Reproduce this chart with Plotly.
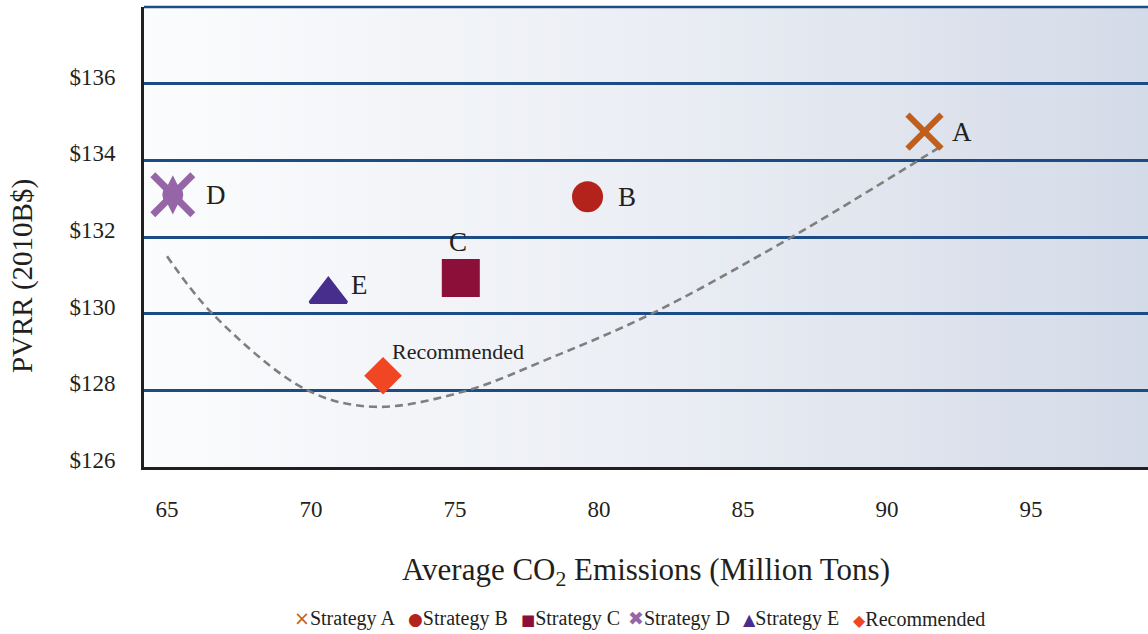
import base64
import plotly.graph_objects as go

# Portfolio strategies: average CO2 emissions vs. present value of revenue requirement
strategies = ["Strategy A", "Strategy B", "Strategy C", "Strategy D", "Strategy E", "Recommended"]
point_labels = ["A", "B", "C", "D", "E", "Recommended"]
emissions = [91.3, 79.6, 75.2, 65.2, 70.6, 72.5]
pvrr = [134.75, 133.05, 130.93, 133.1, 130.5, 128.38]

# Trade-off curve through the portfolios
trend_x = [65.0, 66.6, 69.85, 72.2, 75.3, 78.3, 81.8, 86.6, 91.8]
trend_y = [131.5, 129.98, 128.01, 127.57, 127.97, 128.84, 129.99, 131.96, 134.33]

x_tick_vals = [65, 70, 75, 80, 85, 90, 95]
y_tick_vals = [126, 128, 130, 132, 134, 136]
y_tick_text = ["$126", "$128", "$130", "$132", "$134", "$136"]

X_RANGE = [64.2, 99.06]
Y_RANGE = [126, 138]

W, H = 1148, 634
M_L, M_R, M_T, M_B = 144, 0, 7, 167
PLOT_W = W - M_L - M_R
PLOT_H = H - M_T - M_B

SERIF = "Liberation Serif, Times New Roman, serif"
INK = "#231F20"
GRID = "#1B4C86"

colors = ["#C25E1B", "#B3231B", "#8C0F3A", "#9565A8", "#472D8C", "#F04624"]

marker_styles = [
    dict(symbol="x-thin-open", size=34, color=colors[0], line=dict(width=6, color=colors[0])),
    dict(symbol="circle", size=31, color=colors[1], line=dict(width=0)),
    dict(symbol="square", size=38, color=colors[2], line=dict(width=0)),
    dict(symbol="x-thin-open", size=40, color=colors[3], line=dict(width=7, color=colors[3])),
    dict(symbol="triangle-up", size=32, color=colors[4], line=dict(width=3, color=colors[4])),
    dict(symbol="diamond", size=29, color=colors[5], line=dict(width=0)),
]

# label placement relative to each marker (pixels)
label_offsets = [
    (37, 0, "center"),
    (39, 0, "center"),
    (-3, 36, "center"),
    (43, 0, "center"),
    (31, 10, "center"),
    (7, 24, "left"),
]

# key entries below the chart: glyph, glyph size, left edge (px), row centre (px)
key_glyphs = [("×", 19), ("●", 17), ("■", 15), ("✖", 19), ("▲", 16), ("◆", 16)]
key_left_px = [292, 406, 519, 626, 741, 851]
KEY_ROW_PX = 619

fig = go.Figure()

fig.add_trace(go.Scatter(
    x=trend_x, y=trend_y, mode="lines", line_shape="spline",
    line=dict(color="#7F7F7F", width=2.6, dash="8px,5px"),
    showlegend=False, hoverinfo="skip",
))

for i, name in enumerate(strategies):
    fig.add_trace(go.Scatter(
        x=[emissions[i]], y=[pvrr[i]], mode="markers", name=name,
        marker=marker_styles[i], showlegend=False,
    ))
    if name == "Strategy D":
        # body of the D glyph
        for sym, sz in (("diamond-tall", 28), ("circle", 21)):
            fig.add_trace(go.Scatter(
                x=[emissions[i]], y=[pvrr[i]], mode="markers",
                marker=dict(symbol=sym, size=sz, color=colors[3], line=dict(width=0)),
                showlegend=False, hoverinfo="skip",
            ))

for i, lab in enumerate(point_labels):
    dx, dy, anchor = label_offsets[i]
    small = lab == "Recommended"
    fig.add_annotation(
        x=emissions[i], y=pvrr[i], text=lab, showarrow=False,
        xshift=dx, yshift=dy, xanchor=anchor, yanchor="middle",
        font=dict(family=SERIF, size=22 if small else 27, color=INK),
    )

# key row
for i, name in enumerate(strategies):
    glyph, gsize = key_glyphs[i]
    fig.add_annotation(
        xref="paper", yref="paper",
        x=(key_left_px[i] - M_L) / PLOT_W, y=(H - M_B - KEY_ROW_PX) / PLOT_H,
        xanchor="left", yanchor="middle", showarrow=False,
        text=f'<span style="color:{colors[i]};font-size:{gsize}px;font-family:DejaVu Sans">{glyph}</span>{name}',
        font=dict(family=SERIF, size=20, color=INK),
    )

# y-axis title
fig.add_annotation(
    xref="paper", yref="paper", x=-0.1215, y=0.415, text="PVRR (2010B$)",
    textangle=-90, showarrow=False, xanchor="center", yanchor="middle",
    font=dict(family=SERIF, size=29, color=INK),
)

# horizontal background gradient of the plotting area
svg = (
    '<svg xmlns="http://www.w3.org/2000/svg" width="200" height="20" viewBox="0 0 200 20" '
    'preserveAspectRatio="none"><defs><linearGradient id="g" x1="0" x2="1" y1="0" y2="0">'
    '<stop offset="0" stop-color="#FBFCFD"/><stop offset="0.5" stop-color="#EBEEF4"/>'
    '<stop offset="1" stop-color="#D4DBE8"/></linearGradient></defs>'
    '<rect width="200" height="20" fill="url(#g)"/></svg>'
)
fig.add_layout_image(
    source="data:image/svg+xml;base64," + base64.b64encode(svg.encode()).decode(),
    xref="x domain", yref="y domain", x=0, y=1, sizex=1, sizey=1,
    xanchor="left", yanchor="top", sizing="stretch", layer="below",
)

# top border of the plotting area
fig.add_shape(
    type="line", xref="x domain", yref="y domain", x0=0, x1=1, y0=1, y1=1,
    line=dict(color=GRID, width=2.5), layer="above",
)

fig.update_xaxes(
    range=X_RANGE, tickvals=x_tick_vals, showgrid=False, zeroline=False,
    showline=True, linecolor=INK, linewidth=3, ticks="", ticklabelstandoff=19,
    tickfont=dict(family=SERIF, size=23, color=INK),
    title=dict(text="Average CO<sub>2</sub> Emissions (Million Tons)", standoff=38,
               font=dict(family=SERIF, size=31, color=INK)),
)
fig.update_yaxes(
    range=Y_RANGE, tickvals=y_tick_vals, ticktext=y_tick_text,
    showgrid=True, gridcolor=GRID, gridwidth=2.5, zeroline=False,
    showline=True, linecolor=INK, linewidth=3, ticks="", ticklabelstandoff=21,
    ticklabelshift=-7,
    tickfont=dict(family=SERIF, size=23, color=INK),
)

fig.update_layout(
    width=W, height=H,
    margin=dict(l=M_L, r=M_R, t=M_T, b=M_B),
    paper_bgcolor="white", plot_bgcolor="rgba(0,0,0,0)",
    showlegend=False,
)

fig.write_html("out.html")
